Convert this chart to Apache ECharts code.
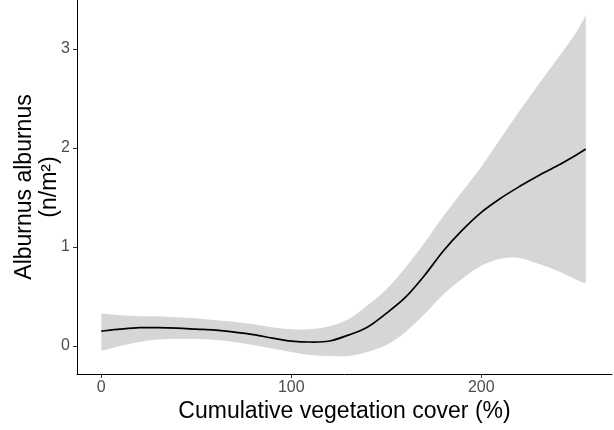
<!DOCTYPE html>
<html>
<head>
<meta charset="utf-8">
<script src="https://cdn.jsdelivr.net/npm/echarts@6/dist/echarts.min.js"></script>
<style>
  html, body { margin: 0; padding: 0; background: #ffffff; }
  #chart { width: 614px; height: 430px; }
</style>
</head>
<body>
<div id="chart"></div>
<script>
// Smoothed fit of Alburnus alburnus density against cumulative vegetation cover,
// with its confidence band.
const cover = [0, 10, 20, 30, 40, 50, 60, 70, 80, 90, 100, 110, 120, 130, 140, 150, 160, 170, 180, 190, 200, 210, 220, 230, 240, 250, 255];
const fit   = [0.15, 0.17, 0.185, 0.185, 0.18, 0.17, 0.16, 0.14, 0.115, 0.08, 0.05, 0.04, 0.05, 0.11, 0.19, 0.33, 0.49, 0.71, 0.96, 1.17, 1.35, 1.49, 1.61, 1.72, 1.82, 1.93, 1.99];
const lower = [-0.05, 0.00, 0.04, 0.065, 0.07, 0.07, 0.06, 0.04, 0.01, -0.025, -0.06, -0.09, -0.10, -0.10, -0.06, 0.01, 0.14, 0.32, 0.52, 0.68, 0.81, 0.88, 0.89, 0.83, 0.76, 0.67, 0.63];
const upper = [0.33, 0.31, 0.30, 0.30, 0.29, 0.28, 0.26, 0.245, 0.22, 0.19, 0.17, 0.17, 0.20, 0.27, 0.41, 0.57, 0.79, 1.04, 1.31, 1.56, 1.81, 2.09, 2.37, 2.64, 2.90, 3.17, 3.34];

const xTicks = [0, 100, 200];
const yTicks = [0, 1, 2, 3];

const xTitle = 'Cumulative vegetation cover (%)';
const yTitle = 'Alburnus alburnus\n(n/m²)';

const FONT = '"Liberation Sans", Arial, sans-serif';
const BAND = '#d6d6d6';

// Catmull-Rom spline through pixel points, written as cubic Bezier path commands.
function splineSegments(pts) {
  let d = '';
  for (let i = 0; i < pts.length - 1; i++) {
    const p0 = pts[Math.max(i - 1, 0)];
    const p1 = pts[i];
    const p2 = pts[i + 1];
    const p3 = pts[Math.min(i + 2, pts.length - 1)];
    const c1x = p1[0] + (p2[0] - p0[0]) / 6;
    const c1y = p1[1] + (p2[1] - p0[1]) / 6;
    const c2x = p2[0] - (p3[0] - p1[0]) / 6;
    const c2y = p2[1] - (p3[1] - p1[1]) / 6;
    d += ' C' + c1x + ' ' + c1y + ' ' + c2x + ' ' + c2y + ' ' + p2[0] + ' ' + p2[1];
  }
  return d;
}

function renderBand(params, api) {
  const top = cover.map((x, i) => api.coord([x, upper[i]]));
  const bottom = cover.map((x, i) => api.coord([x, lower[i]])).reverse();
  let d = 'M' + top[0][0] + ' ' + top[0][1];
  d += splineSegments(top);
  d += ' L' + bottom[0][0] + ' ' + bottom[0][1];
  d += splineSegments(bottom);
  d += ' Z';
  return {
    type: 'path',
    shape: { pathData: d },
    style: { fill: BAND, stroke: null }
  };
}

function renderFit(params, api) {
  const pts = cover.map((x, i) => api.coord([x, fit[i]]));
  const d = 'M' + pts[0][0] + ' ' + pts[0][1] + splineSegments(pts);
  return {
    type: 'path',
    shape: { pathData: d },
    style: { fill: null, stroke: '#000000', lineWidth: 1.7 }
  };
}

const chart = echarts.init(document.getElementById('chart'), null, { renderer: 'canvas' });

chart.setOption({
  animation: false,
  backgroundColor: '#ffffff',
  grid: { left: 77, top: 0, width: 535, height: 374, containLabel: false, outerBoundsMode: 'none' },
  xAxis: {
    type: 'value',
    min: -12.8,
    max: 268.8,
    name: xTitle,
    nameLocation: 'middle',
    nameGap: 26,
    nameMoveOverlap: false,
    nameTextStyle: { fontFamily: FONT, fontSize: 23, color: '#000000' },
    splitLine: { show: false },
    axisLine: { show: true, onZero: false, lineStyle: { color: '#000000', width: 1 } },
    axisTick: { show: true, length: 4, customValues: xTicks, lineStyle: { color: '#333333' } },
    axisLabel: { customValues: xTicks, margin: 6, fontFamily: FONT, fontSize: 16, color: '#4d4d4d' }
  },
  yAxis: {
    type: 'value',
    min: -0.283,
    max: 3.495,
    name: yTitle,
    nameLocation: 'middle',
    nameRotate: 90,
    nameGap: 15,
    nameMoveOverlap: false,
    nameTextStyle: { fontFamily: FONT, fontSize: 23, color: '#000000', lineHeight: 25, align: 'center' },
    splitLine: { show: false },
    axisLine: { show: true, onZero: false, lineStyle: { color: '#000000', width: 1 } },
    axisTick: { show: true, length: 4, customValues: yTicks, lineStyle: { color: '#333333' } },
    axisLabel: { customValues: yTicks, margin: 7, fontFamily: FONT, fontSize: 16, color: '#4d4d4d' }
  },
  series: [
    {
      type: 'custom',
      renderItem: renderBand,
      data: [[cover[0], fit[0]]],
      silent: true,
      clip: true,
      z: 1
    },
    {
      type: 'custom',
      renderItem: renderFit,
      data: [[cover[0], fit[0]]],
      silent: true,
      clip: true,
      z: 3
    }
  ]
});
</script>
</body>
</html>
